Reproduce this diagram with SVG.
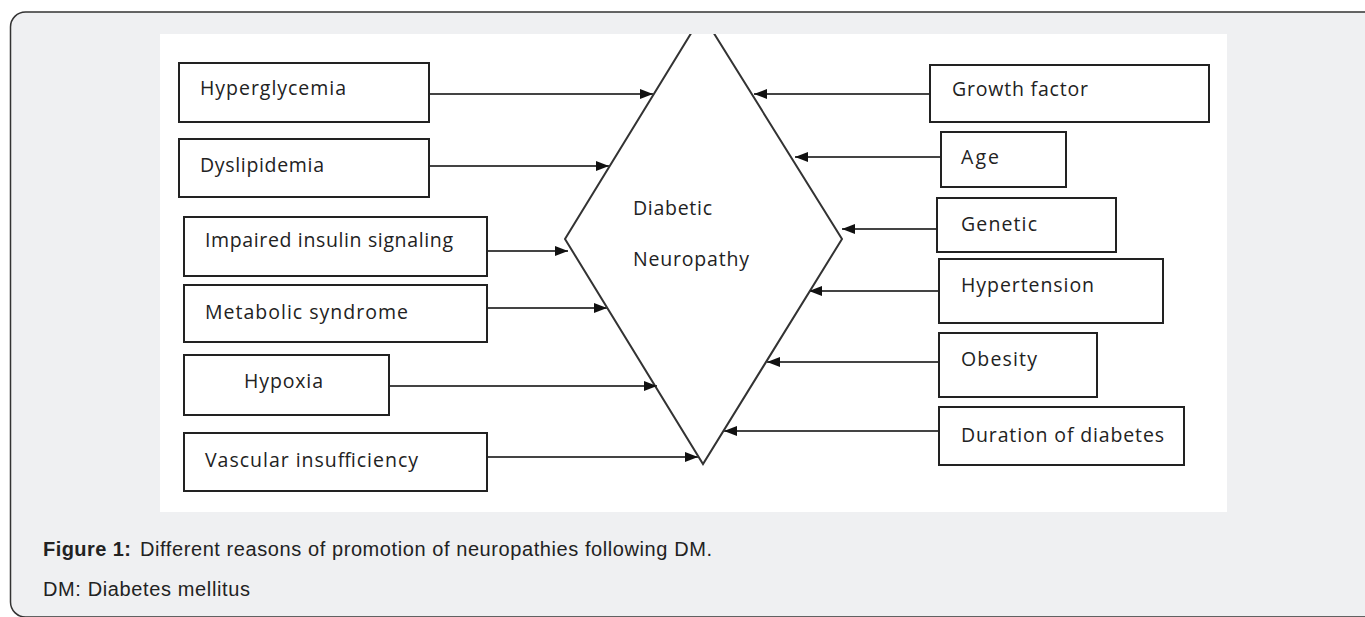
<svg xmlns="http://www.w3.org/2000/svg" width="1365" height="617" viewBox="0 0 1365 617">
<style>
  .frame { fill: #eff0f2; stroke: #333; stroke-width: 1.5; }
  .box { fill: #fff; stroke: #222; stroke-width: 2; }
  .lbl { font-family: "Open Sans", "Liberation Sans", sans-serif; font-size: 19.5px; fill: #222; }
  .conn { stroke: #444; stroke-width: 2; fill: none; marker-end: url(#arr); }
  .cap { font-family: "Liberation Sans", Arial, sans-serif; font-size: 20px; fill: #222; }
</style>
<defs>
  <marker id="arr" viewBox="0 0 13 10" refX="13" refY="5" markerWidth="13" markerHeight="10" markerUnits="userSpaceOnUse" orient="auto">
    <path d="M0,0 L13,5 L0,10 Z" fill="#111"/>
  </marker>
  <clipPath id="imgclip"><rect x="160" y="34" width="1067" height="478"/></clipPath>
</defs>
<rect class="frame" x="10.5" y="12" width="1370" height="605" rx="15"/>
<rect x="160" y="34" width="1067" height="478" fill="#fff"/>
<g id="diamond" clip-path="url(#imgclip)">
  <polygon points="702.4,14.8 842,239 703,464 565,239" fill="#fff" stroke="#333" stroke-width="2"/>
  <text class="lbl" x="633" y="215" textLength="79">Diabetic</text>
  <text class="lbl" x="633" y="266" textLength="116">Neuropathy</text>
</g>
<g id="connectors">
  <line class="conn" x1="430" y1="94" x2="653" y2="94"/>
  <line class="conn" x1="430" y1="166" x2="609" y2="166"/>
  <line class="conn" x1="488" y1="251" x2="568" y2="251"/>
  <line class="conn" x1="488" y1="308" x2="607" y2="308"/>
  <line class="conn" x1="390" y1="386" x2="657" y2="386"/>
  <line class="conn" x1="488" y1="457" x2="698" y2="457"/>
  <line class="conn" x1="929" y1="94" x2="754" y2="94"/>
  <line class="conn" x1="940" y1="157" x2="795" y2="157"/>
  <line class="conn" x1="936" y1="229" x2="842" y2="229"/>
  <line class="conn" x1="938" y1="291" x2="809" y2="291"/>
  <line class="conn" x1="938" y1="362" x2="767" y2="362"/>
  <line class="conn" x1="938" y1="431" x2="724" y2="431"/>
</g>
<g id="hyperglycemia"><rect class="box" x="179" y="63" width="250" height="59"/><text class="lbl" x="200" y="95" textLength="146">Hyperglycemia</text></g>
<g id="dyslipidemia"><rect class="box" x="179" y="139" width="250" height="58"/><text class="lbl" x="200" y="172" textLength="124">Dyslipidemia</text></g>
<g id="impaired"><rect class="box" x="184" y="217" width="303" height="59"/><text class="lbl" x="205" y="247" textLength="248">Impaired insulin signaling</text></g>
<g id="metabolic"><rect class="box" x="184" y="285" width="303" height="57"/><text class="lbl" x="205" y="319" textLength="203">Metabolic syndrome</text></g>
<g id="hypoxia"><rect class="box" x="184" y="355" width="205" height="60"/><text class="lbl" x="244" y="388" textLength="79">Hypoxia</text></g>
<g id="vascular"><rect class="box" x="184" y="433" width="303" height="58"/><text class="lbl" x="205" y="467" textLength="213">Vascular insufficiency</text></g>
<g id="growth"><rect class="box" x="930" y="65" width="279" height="57"/><text class="lbl" x="952" y="96" textLength="136">Growth factor</text></g>
<g id="age"><rect class="box" x="941" y="132" width="125" height="55"/><text class="lbl" x="961" y="164" textLength="38">Age</text></g>
<g id="genetic"><rect class="box" x="937" y="198" width="179" height="54"/><text class="lbl" x="961" y="231" textLength="76">Genetic</text></g>
<g id="hypertension"><rect class="box" x="939" y="259" width="224" height="64"/><text class="lbl" x="961" y="292" textLength="133">Hypertension</text></g>
<g id="obesity"><rect class="box" x="939" y="333" width="158" height="64"/><text class="lbl" x="961" y="366" textLength="76">Obesity</text></g>
<g id="duration"><rect class="box" x="939" y="407" width="245" height="58"/><text class="lbl" x="961" y="442" textLength="203">Duration of diabetes</text></g>
<g id="caption">
  <text class="cap" x="43" y="556" font-weight="bold" textLength="88">Figure 1:</text>
  <text class="cap" x="140" y="556" textLength="572">Different reasons of promotion of neuropathies following DM.</text>
  <text class="cap" x="43" y="596" textLength="207">DM: Diabetes mellitus</text>
</g>
</svg>
